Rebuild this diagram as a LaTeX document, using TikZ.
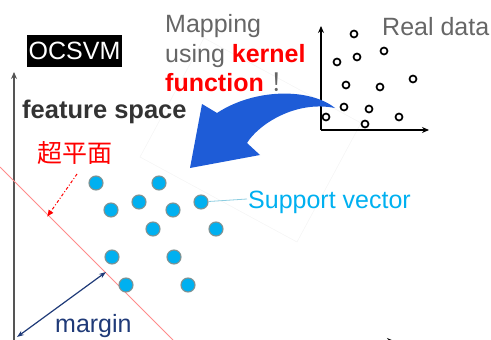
\documentclass[tikz,border=0pt]{standalone}
\usepackage{fontspec}
\setmainfont{Liberation Sans}
\newfontfamily\cjk{Noto Sans CJK SC}
\usetikzlibrary{arrows.meta}
\definecolor{dotblue}{HTML}{00B0F0}
\definecolor{dotrim}{HTML}{7F9292}
\definecolor{arrblue}{RGB}{30,92,215}
\definecolor{navy}{HTML}{1F3A78}
\definecolor{txtgray}{HTML}{666666}
\definecolor{darktxt}{HTML}{333333}
\definecolor{axgray}{HTML}{555555}
\definecolor{svline}{HTML}{8CCDE0}
\tikzset{
  big/.style={font=\fontsize{25}{30}\selectfont, inner sep=0pt, anchor=base west},
  fdot/.style={circle, minimum size=14pt, inner sep=0pt, fill=dotblue, draw=dotrim, line width=1.1pt},
  rdot/.style={circle, minimum size=7pt, inner sep=0pt, fill=white, draw=black, line width=1.7pt},
  axisarrow/.style={line width=1.3pt, -{Stealth[length=7pt,width=6pt]}},
}
\begin{document}
\begin{tikzpicture}[x=1pt,y=-1pt]
\useasboundingbox (0,0) rectangle (491,340);
% faint rotated sheet behind the arrow
\draw[black!4, line width=0.6pt] (140,157) -- (297,242) -- (361,123) -- (204,38) -- cycle;

% feature space axes
\coordinate (fo) at (14,341);
\coordinate (fy) at (14,72);
\coordinate (fx) at (394,341);
\draw[axisarrow, axgray] (fo) -- (fy);
\draw[axisarrow, black] (fo) -- (fx);

% OCSVM label
\node[fill=black, text=white, font=\fontsize{25}{30}\selectfont, minimum width=95pt, minimum height=32pt, inner sep=0pt] (ocsvm) at (74.5,51) {OCSVM};

% texts
\node[big, text=darktxt, font=\fontsize{25.5}{30}\selectfont\bfseries] (fs) at (22,118) {feature space};
\node[big, text=red, font=\fontsize{25}{30}\selectfont\cjk] (hp) at (37,162) {超平面};
\node[big, text=txtgray] (map1) at (165,32) {Mapping};
\node[big, text=txtgray] (map2) at (165,63) {using \textcolor{red}{\bfseries kernel}};
\node[big, text=red] (map3) at (165,92) {{\bfseries function}\hspace{7pt}\textcolor{txtgray}{\cjk ！}};
\node[big, text=txtgray] (real) at (382,35) {Real data};
\node[big, text=dotblue] (sv) at (248,208) {Support vector};
\node[big, text=navy] (mg) at (55,332) {margin};

% hyperplane
\coordinate (h1) at (0,167);
\coordinate (h2) at (173,340);
\draw[red!45, line width=0.8pt] (h1) -- (h2);
% dashed pointer to hyperplane
\coordinate (d1) at (77,174);
\coordinate (d2) at (47,217);
\draw[red, line width=1pt, dash pattern=on 3pt off 2pt on 1pt off 2pt, -{Latex[length=7pt,width=6pt]}] (d1) -- (d2);
% margin arrow
\coordinate (m1) at (17,337);
\coordinate (m2) at (106,272);
\draw[navy, line width=1.2pt, {Stealth[length=7pt,width=5pt]}-{Stealth[length=7pt,width=5pt]}] (m1) -- (m2);

% feature space dots
\foreach \n/\x/\y in {a/96/183, b/159/183, c/111/210, d/139/202, e/173/210, f/201/202, g/153/229, h/216/229, i/112/257, j/174/257, k/126/285, l/188/285}
  \node[fdot] (p\n) at (\x,\y) {};
\coordinate (svend) at (247,199);
\draw[svline, line width=0.8pt] (pf) -- (svend);

% real data axes
\coordinate (ro) at (321,130);
\coordinate (ry) at (321,26);
\coordinate (rx) at (429,130);
\draw[axisarrow, black, line width=1.2pt] (ro) -- (ry);
\draw[axisarrow, black, line width=1.2pt] (ro) -- (rx);
\foreach \n/\x/\y in {a/354/34, b/384/51, c/337/62, d/357/57, e/413/79, f/346/85, g/380/87, h/344/107, i/369/109, j/326/117, k/399/117, l/365/124}
  \node[rdot] (r\n) at (\x,\y) {};

% big mapping arrow
\fill[arrblue] (335,108) .. controls (310,88) and (255,88) .. (217,113)
  -- (202,104) -- (190,168) -- (260,155) -- (247,143)
  .. controls (258,125) and (295,100) .. (335,108) -- cycle;
\end{tikzpicture}
\end{document}
